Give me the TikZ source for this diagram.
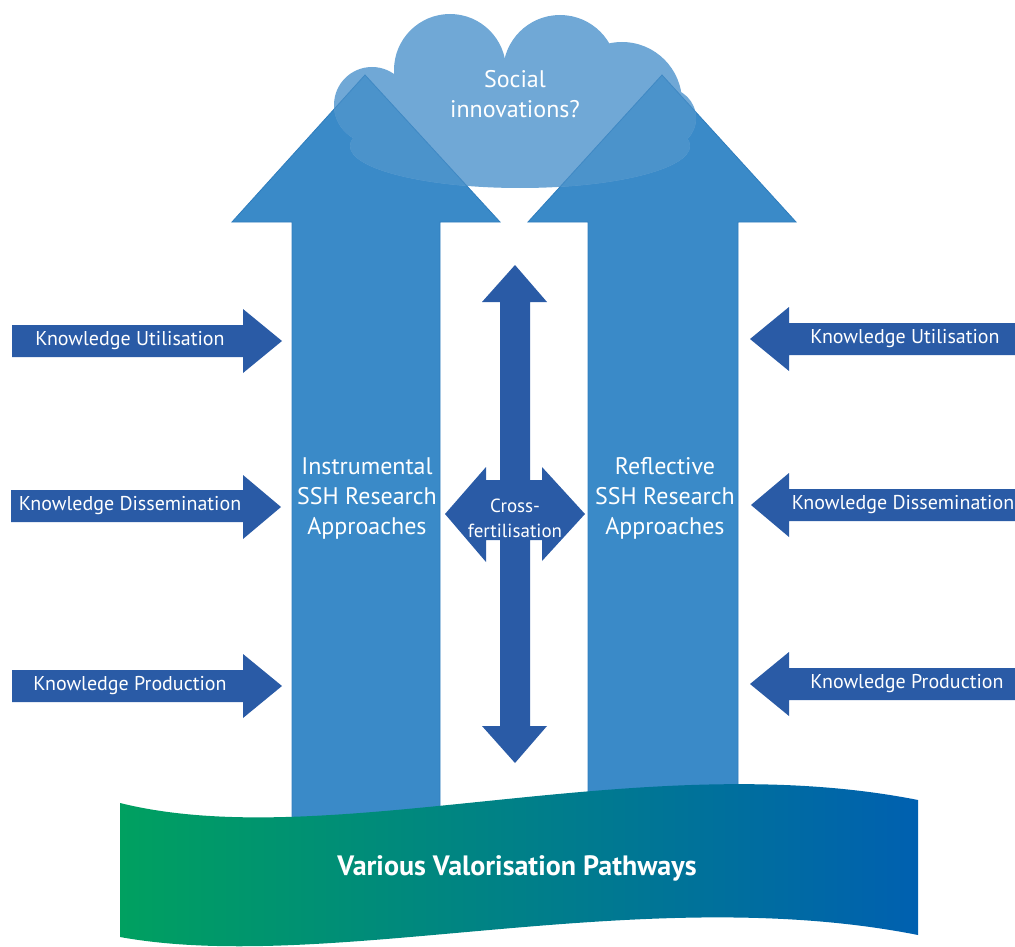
\documentclass[tikz,border=0pt]{standalone}
\usepackage{fontspec}
\setmainfont{PT Sans}
\definecolor{bigblue}{HTML}{3A8AC8}
\definecolor{bigedge}{HTML}{2F7DBD}
\definecolor{kdark}{HTML}{2A5BA6}
\definecolor{cloudlight}{HTML}{70A8D6}
\definecolor{cloudover}{HTML}{4B93CB}
\definecolor{cloudedge}{HTML}{4089C4}
\definecolor{bgreen}{HTML}{00A060}
\definecolor{bblue}{HTML}{0060B0}
\begin{document}
\begin{tikzpicture}[x=1pt,y=-1pt,
  bigarrow/.style={fill=bigblue,draw=bigedge,line width=0.8pt},
  smallarrow/.style={fill=kdark},
  smalltext/.style={text=white,font=\fontsize{20}{24}\selectfont,inner sep=0pt},
  bigtext/.style={text=white,align=center,font=\fontsize{24}{30}\selectfont,inner sep=0pt},
  crosstext/.style={text=white,align=center,font=\fontsize{19}{25}\selectfont,inner sep=0pt}]
\useasboundingbox (0,0) rectangle (1015,947);
\clip (0,0) rectangle (1015,947);
\def\leftarrowpath{(292,840) -- (292,222) -- (232,222) -- (365,75) -- (500,222) -- (440,222) -- (440,840) -- cycle}
\def\rightarrowpath{(588,840) -- (588,222) -- (528,222) -- (662,75) -- (796,222) -- (738,222) -- (738,840) -- cycle}
\def\cloudpath{(372,105) circle[radius=38] (450,70) circle[radius=56] (560,72) circle[radius=57]
  (622,102) circle[radius=60] (666,118) circle[radius=30] (505,100) circle[radius=42]
  (412,110) circle[radius=28] (520,146) ellipse[x radius=170,y radius=42]}
\def\cloudshapes#1{%
  \fill[#1] (372,105) circle[radius=38];
  \fill[#1] (450,70) circle[radius=56];
  \fill[#1] (560,72) circle[radius=57];
  \fill[#1] (622,102) circle[radius=60];
  \fill[#1] (666,118) circle[radius=30];
  \fill[#1] (505,100) circle[radius=42];
  \fill[#1] (412,110) circle[radius=28];
  \fill[#1] (520,146) ellipse[x radius=170,y radius=42];}
% big arrows
\draw[bigarrow] \leftarrowpath;
\draw[bigarrow] \rightarrowpath;
% cloud (semi-transparent look)
\cloudshapes{cloudlight}
\begin{scope}
  \clip \leftarrowpath \rightarrowpath;
  \cloudshapes{cloudover}
\end{scope}
\begin{scope}
  \clip \cloudpath;
  \draw[cloudedge,line width=0.8pt] \leftarrowpath;
  \draw[cloudedge,line width=0.8pt] \rightarrowpath;
\end{scope}
\node[bigtext] (social) at (515,94) {Social\\innovations?};
% cross arrow
\fill[kdark] (500,302) -- (482,302) -- (515,265) -- (547,302) -- (530,302) -- (530,480) -- (542,480) -- (542,467) -- (585,514) -- (542,561) -- (542,540) -- (530,540) -- (530,726) -- (547,726) -- (515,763) -- (482,726) -- (500,726) -- (500,540) -- (486,540) -- (486,562) -- (445,514) -- (486,467) -- (486,480) -- (500,480) -- cycle;
\node[crosstext] (cross) at (515,518) {Cross-\\fertilisation};
% big arrow texts
\node[bigtext] (instr) at (367,498) {Instrumental\\SSH Research\\Approaches};
\node[bigtext] (refl) at (665,498) {Reflective\\SSH Research\\Approaches};
% left small arrows
\fill[smallarrow] (12,325) -- (243,325) -- (243,309) -- (282,341) -- (243,373) -- (243,357) -- (12,357) -- cycle;
\node[smalltext] (lu) at (130,341) {Knowledge Utilisation};
\fill[smallarrow] (11,490) -- (243,490) -- (243,475) -- (281,507) -- (243,539) -- (243,522) -- (11,522) -- cycle;
\node[smalltext] (ld) at (130,506) {Knowledge Dissemination};
\fill[smallarrow] (12,670) -- (243,670) -- (243,654) -- (282,686) -- (243,718) -- (243,702) -- (12,702) -- cycle;
\node[smalltext] (lp) at (130,686) {Knowledge Production};
% right small arrows
\fill[smallarrow] (1015,323) -- (789,323) -- (789,307) -- (750,339) -- (789,371) -- (789,355) -- (1015,355) -- cycle;
\node[smalltext] (ru) at (905,339) {Knowledge Utilisation};
\fill[smallarrow] (1015,489) -- (789,489) -- (789,473) -- (751,505) -- (789,537) -- (789,521) -- (1015,521) -- cycle;
\node[smalltext] (rd) at (903,505) {Knowledge Dissemination};
\fill[smallarrow] (1015,668) -- (789,668) -- (789,652) -- (750,684) -- (789,716) -- (789,700) -- (1015,700) -- cycle;
\node[smalltext] (rp) at (907,684) {Knowledge Production};
% banner
\shade[left color=bgreen,right color=bblue]
  (120,803) .. controls (330,855) and (640,745) .. (918,800)
  -- (918,935) .. controls (640,880) and (330,975) .. (120,937) -- cycle;
\node[text=white,font=\bfseries\fontsize{28}{32}\selectfont,inner sep=0pt] (banner) at (517,868) {Various Valorisation Pathways};
\end{tikzpicture}
\end{document}
